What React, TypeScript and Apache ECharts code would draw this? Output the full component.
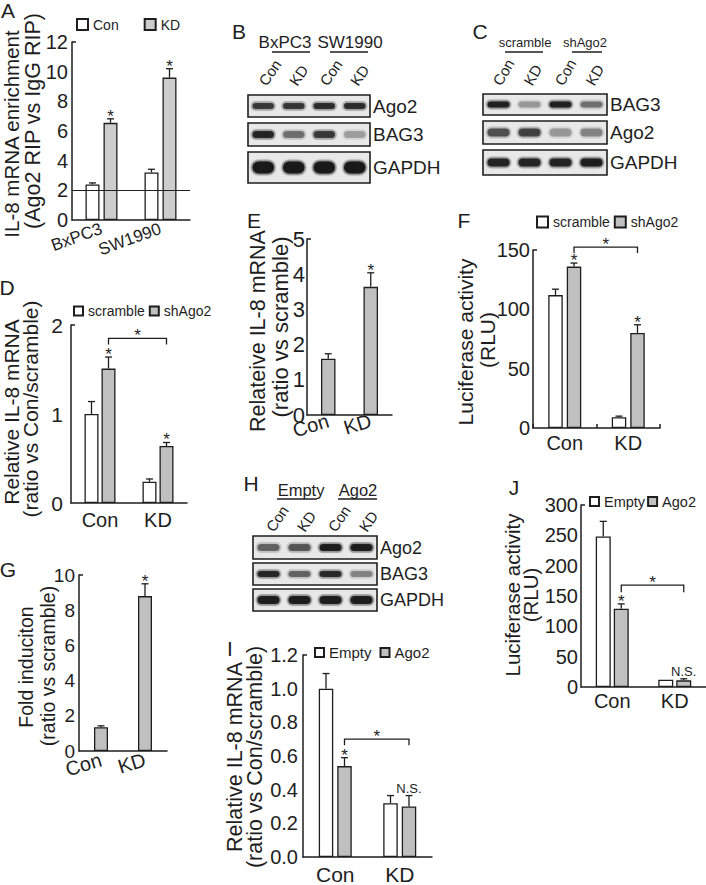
import React, { useEffect, useRef } from "react";
import * as echarts from "echarts";

const FONT = "'Liberation Sans', Arial, Helvetica, sans-serif";
const INK = "#1e1e1e";
const GRAY = "#c0c0c0";
const WHITE = "#ffffff";

// ---------- Panel A ----------
const aCategories = ["BxPC3", "SW1990"];
const aConValues = [2.4, 3.2];
const aConErrors = [0.1, 0.22];
const aKDValues = [6.55, 9.6];
const aKDErrors = [0.27, 0.6];
const aKDMarks = ["*", "*"];
const aBaseline = 2;

// ---------- Panel D ----------
const dCategories = ["Con", "KD"];
const dScrambleValues = [1.0, 0.24];
const dScrambleErrors = [0.14, 0.03];
const dShAgo2Values = [1.51, 0.64];
const dShAgo2Errors = [0.13, 0.04];
const dShAgo2Marks = ["*", "*"];
const dBracket = [1.85, 0.07];

// ---------- Panel E ----------
const eCategories = ["Con", "KD"];
const eValues = [1.6, 3.64];
const eErrors = [0.14, 0.4];
const eMarks = ["", "*"];

// ---------- Panel F ----------
const fCategories = ["Con", "KD"];
const fScrambleValues = [112, 9];
const fScrambleErrors = [5, 1];
const fShAgo2Values = [136, 80];
const fShAgo2Errors = [3, 7];
const fShAgo2Marks = ["*", "*"];
const fBracket = [152.5, 5];

// ---------- Panel G ----------
const gCategories = ["Con", "KD"];
const gValues = [1.35, 8.8];
const gErrors = [0.08, 0.7];
const gMarks = ["", "*"];

// ---------- Panel I ----------
const iCategories = ["Con", "KD"];
const iEmptyValues = [1.0, 0.32];
const iEmptyErrors = [0.09, 0.045];
const iAgo2Values = [0.54, 0.3];
const iAgo2Errors = [0.05, 0.065];
const iAgo2Marks = ["*", "N.S."];
const iBracket = [0.7, 0.036];

// ---------- Panel J ----------
const jCategories = ["Con", "KD"];
const jEmptyValues = [248, 12];
const jEmptyErrors = [25, 0];
const jAgo2Values = [129, 11];
const jAgo2Errors = [8, 2.5];
const jAgo2Marks = ["*", "N.S."];
const jBracket = [168, 12];

// ---------- Western blots (band intensity per lane) ----------
const blotLanes = ["Con", "KD", "Con", "KD"];
const bGroups = ["BxPC3", "SW1990"];
const bProteins = ["Ago2", "BAG3", "GAPDH"];
const bAgo2 = [0.72, 0.74, 0.8, 0.8];
const bBAG3 = [0.85, 0.45, 0.72, 0.28];
const bGAPDH = [0.95, 0.95, 0.95, 0.95];

const cGroups = ["scramble", "shAgo2"];
const cProteins = ["BAG3", "Ago2", "GAPDH"];
const cBAG3 = [0.88, 0.3, 0.88, 0.45];
const cAgo2 = [0.6, 0.68, 0.3, 0.38];
const cGAPDH = [0.85, 0.85, 0.85, 0.9];

const hGroups = ["Empty", "Ago2"];
const hProteins = ["Ago2", "BAG3", "GAPDH"];
const hAgo2 = [0.5, 0.58, 0.9, 0.92];
const hBAG3 = [0.85, 0.5, 0.82, 0.38];
const hGAPDH = [0.9, 0.9, 0.9, 0.9];

// ---------- helpers ----------
const lineStyle = { color: INK, width: 1.5 };

function xAxisDef(gi: number, cats: string[], fontSize: number, rotate: number, margin: number, ticks = false) {
  return {
    type: "category",
    gridIndex: gi,
    data: cats,
    axisLine: { show: true, lineStyle },
    axisTick: { show: ticks, inside: true, length: 4, lineStyle },
    axisLabel: { fontSize, color: INK, fontFamily: FONT, rotate, margin, interval: 0 },
    splitLine: { show: false },
  };
}

function yAxisDef(gi: number, max: number, interval: number, fontSize: number, margin: number, fmt?: (v: number) => string) {
  return {
    type: "value",
    gridIndex: gi,
    min: 0,
    max,
    interval,
    axisLine: { show: true, lineStyle },
    axisTick: { show: true, inside: true, length: 4, lineStyle, customValues: [max] },
    axisLabel: { fontSize, color: INK, fontFamily: FONT, margin, formatter: fmt },
    splitLine: { show: false },
  };
}

function barSeries(gi: number, name: string, values: number[], color: string, barWidth: number, gapPx: number) {
  return {
    type: "bar",
    name,
    xAxisIndex: gi,
    yAxisIndex: gi,
    data: values,
    barWidth,
    barGap: `${(gapPx / barWidth) * 100}%`,
    silent: true,
    itemStyle: { color, borderColor: INK, borderWidth: 1.3 },
  };
}

function textStyle(text: string, x: number, y: number, size: number, align = "center", va = "middle") {
  return {
    text,
    x,
    y,
    fill: INK,
    fontSize: size,
    fontFamily: FONT,
    align,
    verticalAlign: va,
    textAlign: align,
    textVerticalAlign: va,
  };
}

function errSeries(gi: number, values: number[], errors: number[], marks: string[] | null, offset: number) {
  return {
    type: "custom",
    xAxisIndex: gi,
    yAxisIndex: gi,
    silent: true,
    z: 5,
    data: values.map((v, i) => [i, v, errors[i]]),
    encode: { x: 0, y: 1 },
    renderItem: (params: any, api: any) => {
      const i = params.dataIndex;
      const c = api.value(0);
      const v = api.value(1);
      const e = api.value(2);
      const p0 = api.coord([c, v]);
      const p1 = api.coord([c, v + e]);
      const x = p0[0] + offset;
      const children: any[] = [];
      if (e > 0) {
        children.push({ type: "line", shape: { x1: x, y1: p0[1], x2: x, y2: p1[1] }, style: { stroke: INK, lineWidth: 1.3 } });
        children.push({ type: "line", shape: { x1: x - 3.5, y1: p1[1], x2: x + 3.5, y2: p1[1] }, style: { stroke: INK, lineWidth: 1.3 } });
      }
      const m = marks ? marks[i] : "";
      if (m === "*") {
        children.push({ type: "text", style: textStyle("*", x, p1[1] + 6, 17, "center", "bottom") });
      } else if (m) {
        children.push({ type: "text", style: textStyle(m, x, p1[1] - 1, 13, "center", "bottom") });
      }
      return { type: "group", children };
    },
  };
}

function bracketSeries(gi: number, level: number, drop: number, offset: number) {
  return {
    type: "custom",
    xAxisIndex: gi,
    yAxisIndex: gi,
    silent: true,
    z: 5,
    data: [[0, level, 1, drop]],
    encode: { x: 0, y: 1 },
    renderItem: (params: any, api: any) => {
      const a = api.coord([api.value(0), api.value(1)]);
      const b = api.coord([api.value(2), api.value(1)]);
      const d = api.coord([api.value(0), api.value(1) - api.value(3)]);
      const x1 = a[0] + offset;
      const x2 = b[0] + offset;
      return {
        type: "group",
        children: [
          {
            type: "polyline",
            shape: { points: [[x1, d[1]], [x1, a[1]], [x2, a[1]], [x2, d[1]]] },
            style: { stroke: INK, lineWidth: 1.3, fill: null },
          },
          { type: "text", style: textStyle("*", (x1 + x2) / 2, a[1] + 6, 17, "center", "bottom") },
        ],
      };
    },
  };
}

function gText(text: string, x: number, y: number, size: number, rotDeg = 0, align = "center", va = "middle") {
  return {
    type: "text",
    x,
    y,
    rotation: (rotDeg * Math.PI) / 180,
    silent: true,
    style: textStyle(text, 0, 0, size, align, va),
  };
}

function yTitle(lines: string[], xs: number[], ys: number[], sizes: number[]) {
  return lines.map((t, k) => gText(t, xs[k], ys[k], sizes[k], 90));
}

function gLine(x1: number, y1: number, x2: number, y2: number) {
  return { type: "line", silent: true, shape: { x1, y1, x2, y2 }, style: { stroke: INK, lineWidth: 1.5 } };
}

function blotRow(x: number, y: number, w: number, h: number, intens: number[], thick: number) {
  const els: any[] = [
    { type: "rect", silent: true, shape: { x, y, width: w, height: h }, style: { fill: "#e8e8e8", stroke: INK, lineWidth: 1.6 } },
  ];
  const lw = w / intens.length;
  intens.forEach((a, i) => {
    const cx = x + lw * (i + 0.5);
    const bw = lw - 5;
    els.push({
      type: "rect",
      silent: true,
      shape: { x: cx - bw / 2, y: y + h / 2 - (thick + 4) / 2, width: bw, height: thick + 4, r: (thick + 4) / 2 },
      style: { fill: `rgba(40,40,40,${(a * 0.28).toFixed(3)})` },
    });
    els.push({
      type: "rect",
      silent: true,
      shape: { x: cx - bw / 2 + 2, y: y + h / 2 - thick / 2, width: bw - 4, height: thick, r: thick / 2 },
      style: { fill: `rgba(25,25,25,${a.toFixed(3)})`, shadowBlur: 3, shadowColor: `rgba(25,25,25,${(a * 0.7).toFixed(3)})` },
    });
  });
  return els;
}

function blotPanel(
  x: number,
  w: number,
  rows: { y: number; h: number; thick: number; intens: number[] }[],
  proteins: string[],
  labelFont: number,
  groups: string[],
  groupFont: number,
  groupY: number,
  groupX: number[],
  underlines: number[][],
  underlineY: number,
  laneY: number,
  laneDx: number,
  laneRot: number
) {
  const els: any[] = [];
  rows.forEach((r, k) => {
    els.push(...blotRow(x, r.y, w, r.h, r.intens, r.thick));
    els.push(gText(proteins[k], x + w + 3, r.y + r.h / 2, labelFont, 0, "left", "middle"));
  });
  groups.forEach((g, k) => els.push(gText(g, groupX[k], groupY, groupFont)));
  underlines.forEach((u) => els.push(gLine(u[0], underlineY, u[1], underlineY)));
  const lw = w / blotLanes.length;
  blotLanes.forEach((l, i) => {
    els.push(gText(l, x + lw * (i + 0.5) + laneDx, laneY, 15, laneRot, "left", "middle"));
  });
  return els;
}

function buildOption() {
  const grids = [
    { left: 72, top: 42, width: 118, height: 178 }, // A
    { left: 71, top: 325, width: 116, height: 178 }, // D
    { left: 307, top: 239, width: 85, height: 176 }, // E
    { left: 533, top: 250, width: 127, height: 178 }, // F
    { left: 79, top: 575, width: 88, height: 176 }, // G
    { left: 303, top: 655, width: 129, height: 206 }, // I
    { left: 581, top: 505, width: 125, height: 182 }, // J
  ].map((g) => ({ ...g, containLabel: false }));

  const xAxis = [
    xAxisDef(0, aCategories, 17, 20, 8),
    xAxisDef(1, dCategories, 20, 0, 7),
    xAxisDef(2, eCategories, 20, 17, 5),
    xAxisDef(3, fCategories, 20, 0, 5, true),
    xAxisDef(4, gCategories, 20, 17, 8),
    xAxisDef(5, iCategories, 21, 0, 7),
    xAxisDef(6, jCategories, 20, 0, 4),
  ];
  const yAxis = [
    yAxisDef(0, 12, 2, 20, 4),
    yAxisDef(1, 2, 1, 21, 8),
    yAxisDef(2, 5, 1, 22, 2),
    yAxisDef(3, 150, 50, 20, 3),
    yAxisDef(4, 10, 2, 19, 4),
    yAxisDef(5, 1.2, 0.2, 20, 5, (v: number) => v.toFixed(1)),
    yAxisDef(6, 300, 50, 20, 3),
  ];

  const aCon: any = barSeries(0, "Con", aConValues, WHITE, 14, 4);
  aCon.markLine = {
    silent: true,
    symbol: "none",
    label: { show: false },
    lineStyle: { color: INK, type: "solid", width: 1.2 },
    data: [{ yAxis: aBaseline }],
  };

  const series: any[] = [
    // A
    aCon,
    barSeries(0, "KD", aKDValues, "#cdcdcd", 14, 4),
    errSeries(0, aConValues, aConErrors, null, -9),
    errSeries(0, aKDValues, aKDErrors, aKDMarks, 9),
    // D
    barSeries(1, "scramble", dScrambleValues, WHITE, 14, 3),
    barSeries(1, "shAgo2", dShAgo2Values, GRAY, 14, 3),
    errSeries(1, dScrambleValues, dScrambleErrors, null, -8.5),
    errSeries(1, dShAgo2Values, dShAgo2Errors, dShAgo2Marks, 8.5),
    bracketSeries(1, dBracket[0], dBracket[1], 8.5),
    // E
    barSeries(2, "E-values", eValues, GRAY, 14.5, 0),
    errSeries(2, eValues, eErrors, eMarks, 0),
    // F
    barSeries(3, "scramble", fScrambleValues, WHITE, 14.5, 4),
    barSeries(3, "shAgo2", fShAgo2Values, GRAY, 14.5, 4),
    errSeries(3, fScrambleValues, fScrambleErrors, null, -9.25),
    errSeries(3, fShAgo2Values, fShAgo2Errors, fShAgo2Marks, 9.25),
    bracketSeries(3, fBracket[0], fBracket[1], 9.25),
    // G
    barSeries(4, "G-values", gValues, GRAY, 14, 0),
    errSeries(4, gValues, gErrors, gMarks, 0),
    // I
    barSeries(5, "Empty", iEmptyValues, WHITE, 14.5, 4),
    barSeries(5, "Ago2", iAgo2Values, GRAY, 14.5, 4),
    errSeries(5, iEmptyValues, iEmptyErrors, null, -9.25),
    errSeries(5, iAgo2Values, iAgo2Errors, iAgo2Marks, 9.25),
    bracketSeries(5, iBracket[0], iBracket[1], 9.25),
    // J
    barSeries(6, "Empty", jEmptyValues, WHITE, 15, 3),
    barSeries(6, "Ago2", jAgo2Values, GRAY, 15, 3),
    errSeries(6, jEmptyValues, jEmptyErrors, null, -9),
    errSeries(6, jAgo2Values, jAgo2Errors, jAgo2Marks, 9),
    bracketSeries(6, jBracket[0], jBracket[1], 9),
  ];

  const legendBase = (data: string[], left: number, top: number, size: number, fs: number, gap: number) => ({
    data,
    left,
    top,
    padding: 0,
    icon: "rect",
    itemWidth: size,
    itemHeight: size,
    itemGap: gap,
    selectedMode: false,
    textStyle: { fontSize: fs, color: INK, fontFamily: FONT },
  });
  const legend = [
    legendBase(["Con", "KD"], 76, 17.5, 11, 14, 25),
    legendBase(["scramble", "shAgo2"], 73, 304, 9, 14, 4),
    legendBase(["scramble", "shAgo2"], 536, 215, 11, 14, 4),
    legendBase(["Empty", "Ago2"], 314, 645, 9, 15, 8),
    legendBase(["Empty", "Ago2"], 589, 494, 9, 14.5, 2),
  ];

  const els: any[] = [];
  // panel letters
  els.push(gText("A", 8, 10, 21));
  els.push(gText("B", 239, 31, 21));
  els.push(gText("C", 480, 31, 21));
  els.push(gText("D", 7, 287, 21));
  els.push(gText("E", 254, 220, 21));
  els.push(gText("F", 464, 220, 21));
  els.push(gText("G", 8, 569, 21));
  els.push(gText("H", 251, 483, 21));
  els.push(gText("I", 230, 648, 21));
  els.push(gText("J", 514, 487, 21));

  // axis titles
  els.push(...yTitle(["IL-8 mRNA enrichment", "(Ago2 RIP vs IgG RIP)"], [11.5, 32.5], [134, 121], [20.5, 21.5]));
  els.push(...yTitle(["Relative IL-8 mRNA", "(ratio vs Con/scramble)"], [11.7, 30.5], [412, 409], [21, 21]));
  els.push(...yTitle(["Relateive IL-8 mRNA", "(ratio vs scramble)"], [258, 280], [331, 327], [21.5, 22]));
  els.push(...yTitle(["Luciferase activity", "(RLU)"], [465, 487], [342, 340], [21, 21]));
  els.push(...yTitle(["Fold induciton", "(ratio vs scramble)"], [26, 47.5], [667, 666], [19.5, 19.5]));
  els.push(...yTitle(["Relative IL-8 mRNA", "(ratio vs Con/scramble)"], [235, 255], [757, 757], [21.5, 21.5]));
  els.push(...yTitle(["Luciferase activity", "(RLU)"], [512, 530], [595, 595], [20.5, 20.5]));

  // blots
  els.push(
    ...blotPanel(
      248,
      122,
      [
        { y: 95, h: 22, thick: 6, intens: bAgo2 },
        { y: 123, h: 23, thick: 7, intens: bBAG3 },
        { y: 152, h: 31, thick: 12, intens: bGAPDH },
      ],
      bProteins,
      19,
      bGroups,
      17,
      42,
      [285, 350],
      [
        [272, 310],
        [330, 368],
      ],
      52,
      84,
      -1,
      56
    )
  );
  els.push(
    ...blotPanel(
      483,
      124,
      [
        { y: 94, h: 21, thick: 6, intens: cBAG3 },
        { y: 121, h: 23, thick: 8, intens: cAgo2 },
        { y: 150, h: 25, thick: 8, intens: cGAPDH },
      ],
      cProteins,
      19,
      cGroups,
      13,
      42,
      [525, 585],
      [
        [505, 543],
        [572, 602],
      ],
      52,
      84,
      -2,
      60
    )
  );
  els.push(
    ...blotPanel(
      253,
      124,
      [
        { y: 536, h: 23, thick: 7, intens: hAgo2 },
        { y: 563, h: 22, thick: 6, intens: hBAG3 },
        { y: 589, h: 22, thick: 8, intens: hGAPDH },
      ],
      hProteins,
      18,
      hGroups,
      16.5,
      490,
      [301, 358],
      [
        [277, 317],
        [338, 377],
      ],
      499,
      530,
      1,
      56
    )
  );

  return {
    animation: false,
    backgroundColor: "#ffffff",
    textStyle: { fontFamily: FONT, color: INK },
    grid: grids,
    xAxis,
    yAxis,
    legend,
    series,
    graphic: { elements: els },
  };
}

export default function App() {
  const ref = useRef<HTMLDivElement>(null);
  useEffect(() => {
    if (!ref.current) return;
    const chart = echarts.init(ref.current, null, { renderer: "svg", width: 706, height: 885 });
    chart.setOption(buildOption() as any);
    return () => chart.dispose();
  }, []);
  return (
    <div
      ref={ref}
      style={{ position: "absolute", left: 0, top: 0, width: 706, height: 885, background: "#fff" }}
    />
  );
}
